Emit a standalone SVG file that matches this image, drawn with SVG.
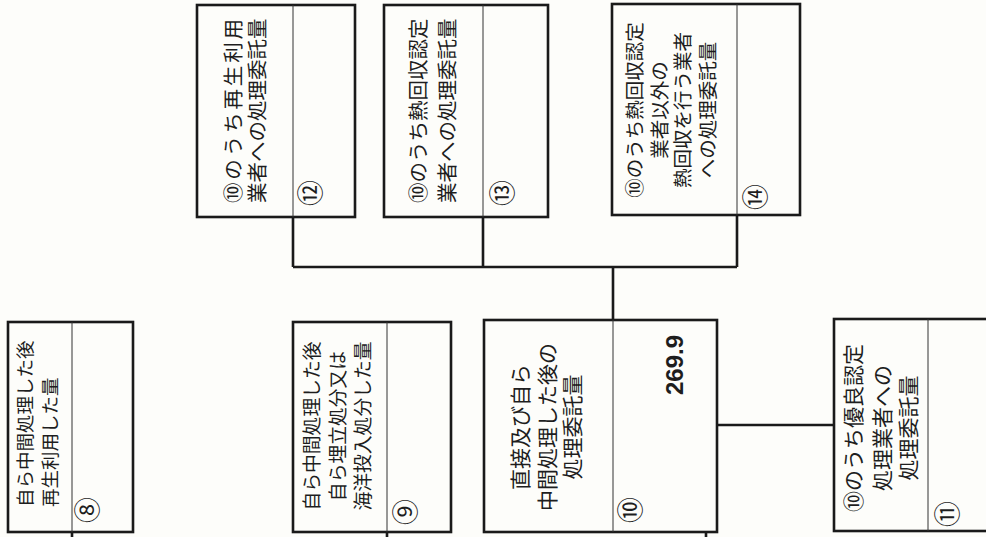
<svg xmlns="http://www.w3.org/2000/svg" width="986" height="537" viewBox="0 0 986 537">
<style>
.box{fill:none;stroke:#1a1a1a;stroke-width:2.6}
.div{stroke:#333;stroke-width:1}
.con{fill:none;stroke:#1a1a1a;stroke-width:2.6}
.t{font-family:"Noto Sans CJK JP","Noto Sans",sans-serif;fill:#1e1e1e}
.n{font-family:"Noto Sans CJK JP","Noto Sans",sans-serif;fill:#1e1e1e;font-size:26px;text-anchor:middle}
.v{font-family:"Liberation Sans",Arial,sans-serif;font-weight:bold;fill:#1e1e1e;font-size:24px}
</style>
<rect width="986" height="537" fill="#fdfdfa"/>
<g id="connectors">
<path class="con" d="M72 532V537M387 532V537M706 532V537M613 320V267M293 267H737M293 217V267M483 217V267M737 215V267M717 425H834"/>
</g>
<g id="n8">
<rect class="box" x="8" y="322" width="125" height="210"/>
<line class="div" x1="72" y1="322" x2="72" y2="532"/>
<text class="t" font-size="18.5" transform="translate(32,507) rotate(-90)">自ら中間処理した後</text>
<text class="t" font-size="18.5" transform="translate(57,507) rotate(-90)">再生利用した量</text>
<text class="n" transform="translate(97,510) rotate(-90)">⑧</text>
</g>
<g id="n9">
<rect class="box" x="293" y="322" width="158" height="210"/>
<line class="div" x1="387" y1="322" x2="387" y2="532"/>
<g class="t" font-size="18.8" text-anchor="middle">
<text transform="translate(319,426) rotate(-90)">自ら中間処理した後</text>
<text transform="translate(345,426) rotate(-90)">自ら埋立処分又は</text>
<text transform="translate(370,426) rotate(-90)">海洋投入処分した量</text>
</g>
<text class="n" transform="translate(415,512) rotate(-90)">⑨</text>
</g>
<g id="n10">
<rect class="box" x="484" y="320" width="233" height="212"/>
<line class="div" x1="613" y1="320" x2="613" y2="532"/>
<g class="t" font-size="21" text-anchor="middle">
<text transform="translate(528,427) rotate(-90)">直接及び自ら</text>
<text transform="translate(555,427) rotate(-90)">中間処理した後の</text>
<text transform="translate(580,427) rotate(-90)">処理委託量</text>
</g>
<text class="n" transform="translate(640,510) rotate(-90)">⑩</text>
<text class="v" transform="translate(683,395) rotate(-90)">269.9</text>
</g>
<g id="n11">
<rect class="box" x="834" y="319" width="170" height="212"/>
<line class="div" x1="928" y1="319" x2="928" y2="531"/>
<g class="t" font-size="21" text-anchor="middle">
<text transform="translate(861,428) rotate(-90)">⑩のうち優良認定</text>
<text transform="translate(890,428) rotate(-90)">処理業者への</text>
<text transform="translate(916,428) rotate(-90)">処理委託量</text>
</g>
<text class="n" transform="translate(957,514) rotate(-90)">⑪</text>
</g>
<g id="n12">
<rect class="box" x="197" y="5" width="158" height="212"/>
<line class="div" x1="293" y1="5" x2="293" y2="217"/>
<text class="t" font-size="20.5" textLength="184" lengthAdjust="spacing" transform="translate(241,203) rotate(-90)">⑩のうち再生利用</text>
<text class="t" font-size="20.5" transform="translate(265,203) rotate(-90)">業者への処理委託量</text>
<text class="n" transform="translate(320,193) rotate(-90)">⑫</text>
</g>
<g id="n13">
<rect class="box" x="384" y="5" width="164" height="212"/>
<line class="div" x1="483" y1="5" x2="483" y2="217"/>
<text class="t" font-size="20.5" transform="translate(426,203) rotate(-90)">⑩のうち熱回収認定</text>
<text class="t" font-size="20.5" transform="translate(455,203) rotate(-90)">業者への処理委託量</text>
<text class="n" transform="translate(512,193) rotate(-90)">⑬</text>
</g>
<g id="n14">
<rect class="box" x="612" y="4" width="188" height="211"/>
<line class="div" x1="737" y1="4" x2="737" y2="215"/>
<g class="t" font-size="19.5" text-anchor="middle">
<text transform="translate(642,110) rotate(-90)">⑩のうち熱回収認定</text>
<text transform="translate(667,110) rotate(-90)">業者以外の</text>
<text transform="translate(690,110) rotate(-90)">熱回収を行う業者</text>
<text transform="translate(715,110) rotate(-90)">への処理委託量</text>
</g>
<text class="n" transform="translate(765,197) rotate(-90)">⑭</text>
</g>
</svg>
